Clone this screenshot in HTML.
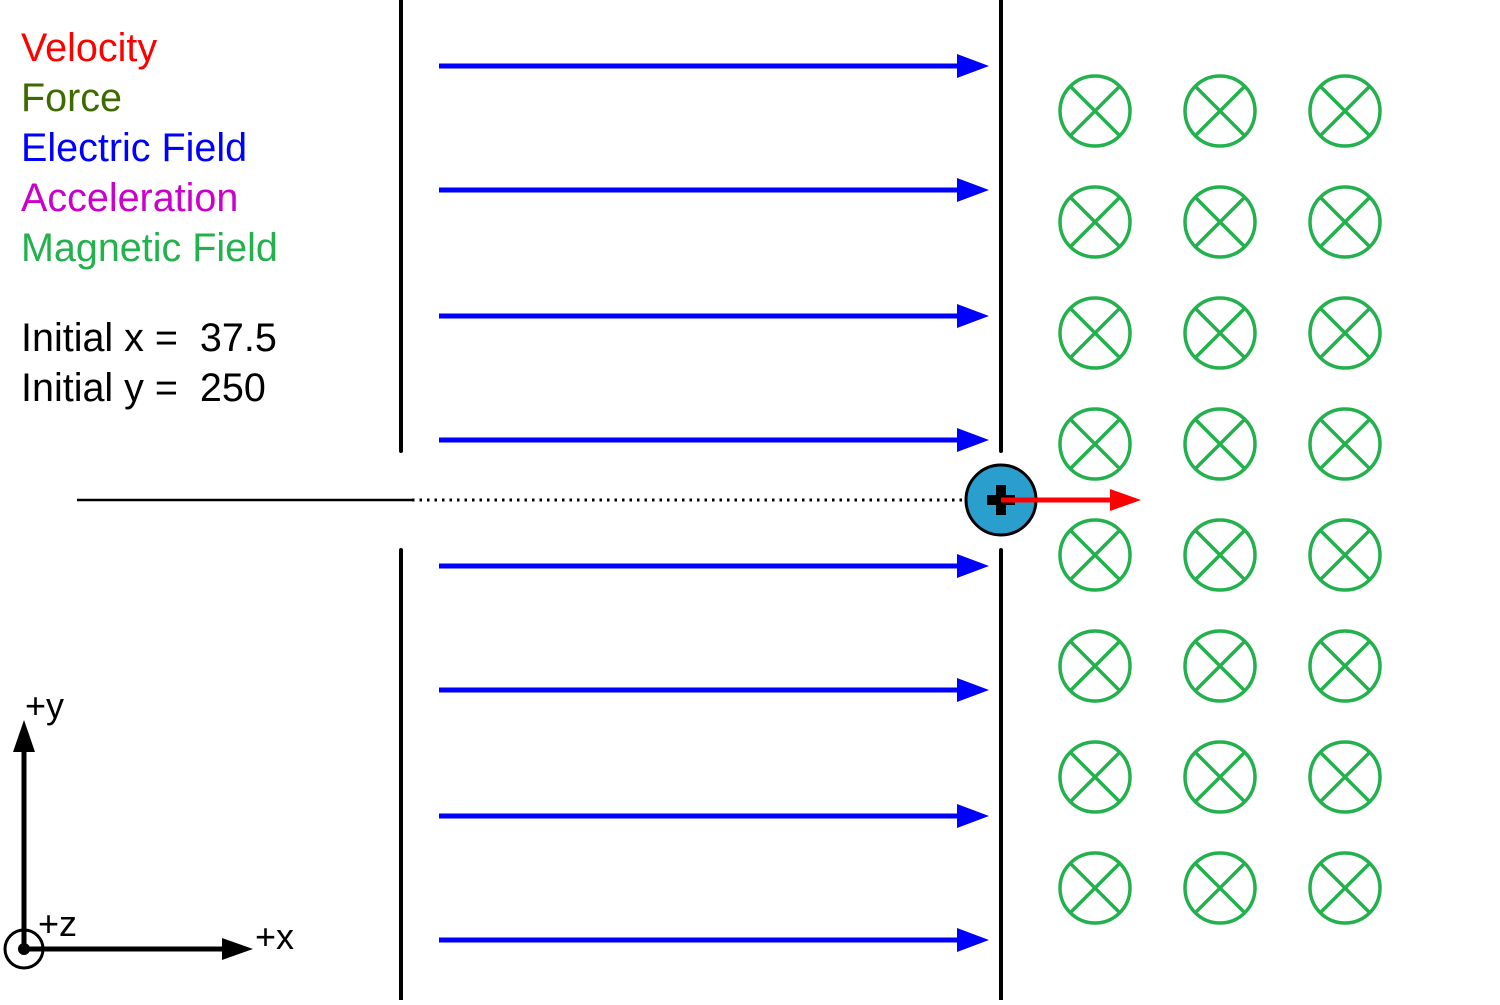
<!DOCTYPE html>
<html><head><style>html,body{margin:0;padding:0;background:#fff}</style></head><body>
<svg width="1500" height="1000" xmlns="http://www.w3.org/2000/svg" font-family="Liberation Sans, Arial, sans-serif">
<rect width="1500" height="1000" fill="#fff"/>
<g font-size="39.5">
<text x="21" y="61" fill="#ff0000">Velocity</text>
<text x="21" y="111" fill="#3d6b00">Force</text>
<text x="21" y="161" fill="#0000ff">Electric Field</text>
<text x="21" y="211" fill="#cc00cc">Acceleration</text>
<text x="21" y="261" fill="#22b14c">Magnetic Field</text>
<text x="21" y="351" fill="#000" xml:space="preserve">Initial x =  37.5</text>
<text x="21" y="401" fill="#000" xml:space="preserve">Initial y =  250</text>
</g>
<g stroke="#000" stroke-width="4" stroke-linecap="round">
<line x1="401" y1="0" x2="401" y2="451"/>
<line x1="401" y1="550" x2="401" y2="1000"/>
<line x1="1001" y1="0" x2="1001" y2="451"/>
<line x1="1001" y1="550" x2="1001" y2="1000"/>
</g>
<line x1="77" y1="500" x2="412" y2="500" stroke="#000" stroke-width="2.5"/>
<line x1="412" y1="500" x2="965" y2="500" stroke="#000" stroke-width="3" stroke-dasharray="2.5 5"/>
<g fill="#0000ff">
<g id="a"><rect x="439" y="63.5" width="522" height="5"/><polygon points="957,54 989,66 957,78"/></g>
<use href="#a" y="124"/><use href="#a" y="250"/><use href="#a" y="374"/>
<use href="#a" y="500"/><use href="#a" y="624"/><use href="#a" y="750"/><use href="#a" y="874"/>
</g>
<defs>
<g id="b" fill="none" stroke="#22b14c" stroke-width="3.5"><circle cx="1095" cy="111" r="35"/><line x1="1070" y1="86" x2="1120" y2="136"/><line x1="1120" y1="86" x2="1070" y2="136"/></g>
<g id="col">
<use href="#b" y="0"/><use href="#b" y="111"/><use href="#b" y="222"/><use href="#b" y="333"/>
<use href="#b" y="444"/><use href="#b" y="555"/><use href="#b" y="666"/><use href="#b" y="777"/>
</g>
</defs>
<use href="#col"/><use href="#col" x="125"/><use href="#col" x="250"/>
<circle cx="1001" cy="500" r="35" fill="#2a9fcd" stroke="#000" stroke-width="3"/>
<rect x="987" y="495" width="28" height="10" fill="#000"/>
<rect x="996" y="485" width="10" height="30" fill="#000"/>
<line x1="1001" y1="500" x2="1112" y2="500" stroke="#ff0000" stroke-width="5"/>
<polygon points="1110,489 1141,500 1110,511" fill="#ff0000"/>
<g stroke="#000" stroke-width="5">
<line x1="24" y1="949" x2="24" y2="748"/>
<line x1="24" y1="949" x2="226" y2="949"/>
</g>
<polygon points="13,752 24,720 35,752" fill="#000"/>
<polygon points="222,938 253,949 222,960" fill="#000"/>
<circle cx="24" cy="949" r="19" fill="none" stroke="#000" stroke-width="3"/>
<circle cx="24" cy="949" r="6" fill="#000"/>
<g font-size="36" fill="#000">
<text x="25" y="718">+y</text>
<text x="38" y="936">+z</text>
<text x="255" y="949">+x</text>
</g>
</svg>
</body></html>
